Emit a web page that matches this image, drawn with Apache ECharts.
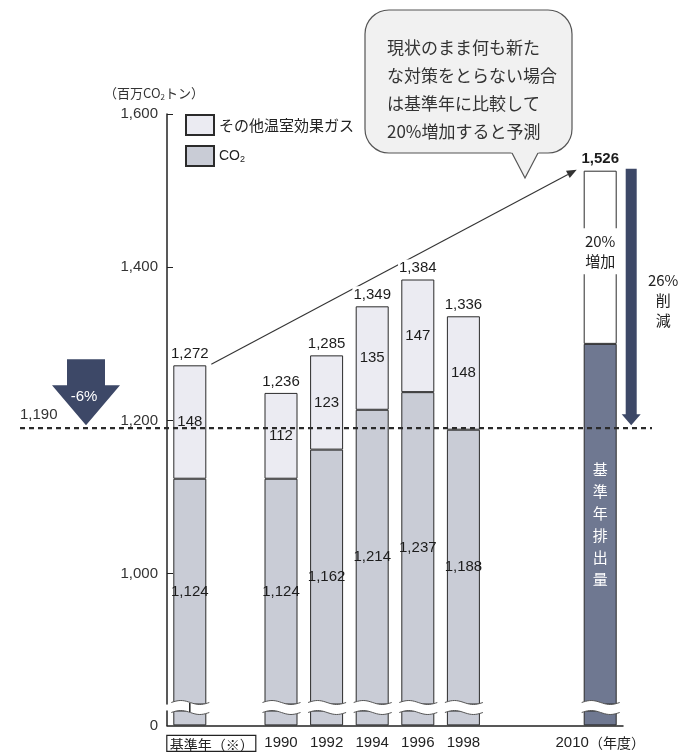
<!DOCTYPE html>
<html>
<head>
<meta charset="utf-8">
<script src="https://cdn.jsdelivr.net/npm/echarts@6/dist/echarts.min.js"></script>
<style>
  html, body { margin: 0; padding: 0; background: #fff; }
  #chart { width: 685px; height: 752px; }
</style>
</head>
<body>
<div id="chart"></div>
<script>
// Greenhouse gas emissions (million t-CO2), base year through 1998, plus the 2010 projection
const categories = ['基準年（※）', '', '1990', '1992', '1994', '1996', '1998', '', '', '2010'];
const co2 = [1124, null, 1124, 1162, 1214, 1237, 1188, null, null, null];
const otherGases = [148, null, 112, 123, 135, 147, 148, null, null, null];
const forecast2010 = 1526;      // projected total with no new measures
const baseLevel2010 = 1300;     // base-year emission band drawn inside the 2010 bar
const targetLevel = 1190;       // -6% target
const upperTicks = [1000, 1200, 1400, 1600];
const lowerTicks = [0];

// The value axis is split: an upper panel (830–1600) and a short stub (0–20) above the zero line
const UPPER_MIN = 830, UPPER_MAX = 1600, LOWER_MAX = 20;

const FONT = "'Liberation Sans', 'Noto Sans CJK JP', sans-serif";
const JP = "'Noto Sans CJK JP', sans-serif";
const fmt = v => Number(v).toLocaleString('en-US');
const IDX_2010 = categories.indexOf('2010');
const BAR_W = 33;
const DARK = '#6f7891';
const NAVY = '#3d4867';

const co2Data = co2.map((v, i) => i === IDX_2010
  ? { value: baseLevel2010,
      itemStyle: { color: DARK },
      label: { formatter: '基\n準\n年\n排\n出\n量', color: '#fff', fontFamily: JP,
               fontSize: 15, lineHeight: 22 } }
  : v);
const co2Stub = co2.map((v, i) => i === IDX_2010
  ? { value: baseLevel2010, itemStyle: { color: DARK } }
  : v);
const otherData = otherGases.map((v, i) => i === IDX_2010
  ? { value: forecast2010 - baseLevel2010,
      itemStyle: { color: '#ffffff' },
      label: { formatter: '20%\n増加', fontFamily: JP, fontSize: 15, lineHeight: 20,
               backgroundColor: '#fff', padding: [3, 4], offset: [0, -6] } }
  : v);
const totals = categories.map((c, i) => {
  if (i === IDX_2010) return { value: forecast2010, label: { fontWeight: 'bold' } };
  return co2[i] == null ? null : co2[i] + otherGases[i];
});
const barSlots = categories.map((c, i) => i).filter(i => totals[i] != null).map(i => [i]);

function wave(xl, w, y0, amp) {
  const pts = [];
  for (let k = 0; k <= 20; k++) {
    const t = k / 20;
    pts.push([xl + t * w, y0 - amp * Math.sin(Math.PI * 2 * t)]);
  }
  return pts;
}

// Wavy break marks across each bar where the axis is split
function renderBreak(params, api) {
  const i = api.value(0);
  const top = api.coord([i, UPPER_MIN]);
  const gap = 7;
  const xl = top[0] - BAR_W / 2 - 2;
  const w = BAR_W + 5;
  const upper = wave(xl, w, top[1] - 1.5, 2);
  const lower = wave(xl, w, top[1] + gap + 1.5, 2);
  return {
    type: 'group',
    children: [
      { type: 'polygon', shape: { points: upper.concat(lower.slice().reverse()) },
        style: { fill: '#fff' } },
      { type: 'polyline', shape: { points: upper }, style: { stroke: '#555', lineWidth: 1, fill: null } },
      { type: 'polyline', shape: { points: lower }, style: { stroke: '#555', lineWidth: 1, fill: null } }
    ]
  };
}

// Trend arrow from the base-year total to the 2010 projection (drawn beneath labels)
function renderTrend(params, api) {
  const p0 = api.coord([0, totals[0]]);
  const p1 = api.coord([IDX_2010, forecast2010]);
  const a = [p0[0] + BAR_W / 2 + 5, p0[1] - 1];
  const b = [p1[0] - BAR_W / 2 - 7, p1[1] - 1];
  const ang = Math.atan2(b[1] - a[1], b[0] - a[0]);
  const L = 10, W = 4;
  const back = [b[0] - L * Math.cos(ang), b[1] - L * Math.sin(ang)];
  const nx = -Math.sin(ang), ny = Math.cos(ang);
  return {
    type: 'group',
    children: [
      { type: 'line', shape: { x1: a[0], y1: a[1], x2: back[0], y2: back[1] },
        style: { stroke: '#333', lineWidth: 1.1 } },
      { type: 'polygon',
        shape: { points: [b, [back[0] + nx * W, back[1] + ny * W], [back[0] - nx * W, back[1] - ny * W]] },
        style: { fill: '#333' } }
    ]
  };
}

// Target line, -6% arrow and 26% reduction arrow (drawn above the bars)
function renderTarget(params, api) {
  const yT = api.coord([0, targetLevel])[1];
  const p1 = api.coord([IDX_2010, forecast2010]);
  const yBreak = api.coord([0, UPPER_MIN])[1];
  const axisX = api.coord([-0.5, UPPER_MIN])[0];
  const ax = p1[0] + 31;
  const cx = 86;
  return {
    type: 'group',
    children: [
      { type: 'line', shape: { x1: axisX, y1: yBreak - 1, x2: axisX, y2: yBreak + 8 },
        style: { stroke: '#222', lineWidth: 1.5 } },
      { type: 'line', shape: { x1: 20, y1: yT, x2: 652, y2: yT },
        style: { stroke: '#2a2a2a', lineWidth: 2.4, lineDash: [5, 4] } },
      { type: 'text', style: { text: fmt(targetLevel), x: 20, y: yT - 13, fill: '#333',
        font: '15px ' + FONT, verticalAlign: 'middle' } },
      { type: 'polygon',
        shape: { points: [[cx - 19, yT - 69], [cx + 19, yT - 69], [cx + 19, yT - 43], [cx + 34, yT - 43],
                          [cx, yT - 3], [cx - 34, yT - 43], [cx - 19, yT - 43]] },
        style: { fill: NAVY } },
      { type: 'text', style: { text: '-6%', x: cx - 2, y: yT - 31, fill: '#fff',
        font: '15px ' + FONT, align: 'center', verticalAlign: 'middle' } },
      { type: 'polygon',
        shape: { points: [[ax - 5.5, p1[1] - 2], [ax + 5.5, p1[1] - 2], [ax + 5.5, yT - 14], [ax + 9.5, yT - 14],
                          [ax, yT - 3], [ax - 9.5, yT - 14], [ax - 5.5, yT - 14]] },
        style: { fill: NAVY } },
      { type: 'text', style: { text: '26%\n削\n減', x: ax + 32, y: p1[1] + 100, fill: '#222',
        font: '15px ' + JP, lineHeight: 20, align: 'center' } }
    ]
  };
}

const chart = echarts.init(document.getElementById('chart'), null, { renderer: 'canvas' });
chart.setOption({
  animation: false,
  backgroundColor: '#fff',
  textStyle: { fontFamily: FONT },
  grid: [
    { left: 167, right: 62, top: 114, bottom: 48 },
    { left: 167, right: 62, top: 711, bottom: 25 }
  ],
  legend: {
    data: ['その他温室効果ガス', 'CO2'],
    orient: 'vertical', left: 185, top: 114, padding: 0,
    itemWidth: 28, itemHeight: 20, itemGap: 9, icon: 'rect',
    formatter: n => n === 'CO2' ? '{n|CO}{s|2}' : '{j|' + n + '}',
    textStyle: {
      color: '#222', fontSize: 15,
      rich: {
        j: { fontFamily: JP, fontSize: 15, color: '#222' },
        n: { fontFamily: FONT, fontSize: 14, lineHeight: 16, color: '#222' },
        s: { fontFamily: FONT, fontSize: 9, lineHeight: 16, verticalAlign: 'bottom', color: '#222' }
      }
    }
  },
  xAxis: [
    { gridIndex: 0, type: 'category', data: categories, show: false },
    {
      gridIndex: 1, type: 'category', data: categories,
      axisLine: { lineStyle: { color: '#222', width: 1.5 } },
      axisTick: { show: false },
      axisLabel: {
        interval: 0, margin: 10, color: '#222', fontSize: 15,
        formatter: (v, i) => {
          if (i === 0) return '{sp|}{box|' + v + '}';
          if (v === '2010') return v + '{u|（年度）}';
          return v;
        },
        rich: {
          sp: { width: 43 },
          box: { fontFamily: JP, fontSize: 14, color: '#222', borderColor: '#222', borderWidth: 1.2, padding: [2, 2, 0, 3] },
          u: { fontFamily: JP, fontSize: 14, color: '#222' }
        }
      }
    }
  ],
  yAxis: [
    {
      gridIndex: 0, type: 'value', min: UPPER_MIN, max: UPPER_MAX,
      name: '（百万CO{s|2}トン）',
      nameLocation: 'end', nameGap: 13,
      nameTextStyle: {
        fontFamily: JP, fontSize: 13, color: '#333', align: 'center', padding: [0, 26, 0, 0],
        rich: { s: { fontSize: 8, verticalAlign: 'bottom', lineHeight: 15, color: '#333' } }
      },
      axisLine: { show: true, lineStyle: { color: '#222', width: 1.5 } },
      axisTick: { show: true, inside: true, length: 6, customValues: upperTicks, lineStyle: { color: '#222' } },
      axisLabel: { customValues: upperTicks, fontSize: 15, color: '#333', margin: 9, formatter: v => fmt(v) },
      splitLine: { show: false }
    },
    {
      gridIndex: 1, type: 'value', min: 0, max: LOWER_MAX,
      axisLine: { show: true, lineStyle: { color: '#222', width: 1.5 } },
      axisTick: { show: false },
      axisLabel: { customValues: lowerTicks, fontSize: 15, color: '#333', margin: 9, formatter: v => fmt(v) },
      splitLine: { show: false }
    }
  ],
  series: [
    {
      name: 'CO2', type: 'bar', stack: 'emission', barWidth: BAR_W,
      itemStyle: { color: '#c9ccd6', borderColor: '#2b2b2b', borderWidth: 1 },
      label: { show: true, position: 'inside', fontSize: 15, color: '#1c1c1c',
               formatter: p => fmt(p.value) },
      data: co2Data
    },
    {
      name: 'その他温室効果ガス', type: 'bar', stack: 'emission', barWidth: BAR_W,
      itemStyle: { color: '#ebebf2', borderColor: '#2b2b2b', borderWidth: 1 },
      label: { show: true, position: 'inside', fontSize: 15, color: '#1c1c1c',
               formatter: p => fmt(p.value) },
      data: otherData
    },
    {
      name: 'total', type: 'bar', barWidth: BAR_W, barGap: '-100%', silent: true,
      itemStyle: { color: 'rgba(0,0,0,0)', borderWidth: 0 },
      label: { show: true, position: 'top', distance: 3, fontSize: 15, color: '#1c1c1c',
               backgroundColor: '#fff', padding: [1, 1],
               formatter: p => fmt(p.value) },
      data: totals
    },
    {
      name: 'CO2', type: 'bar', xAxisIndex: 1, yAxisIndex: 1, barWidth: BAR_W,
      itemStyle: { color: '#c9ccd6', borderColor: '#2b2b2b', borderWidth: 1 },
      label: { show: false },
      data: co2Stub
    },
    { type: 'custom', z: 3, silent: true, clip: false, renderItem: renderBreak, data: barSlots },
    { type: 'custom', z: 1, silent: true, clip: false, renderItem: renderTrend, data: [[0, UPPER_MIN]] },
    { type: 'custom', z: 5, silent: true, clip: false, renderItem: renderTarget, data: [[0, UPPER_MIN]] }
  ],
  graphic: [
    {
      type: 'rect', silent: true,
      shape: { x: 365, y: 10, width: 207, height: 143, r: 24 },
      style: { fill: '#f1f1f1', stroke: '#555', lineWidth: 1.2 }
    },
    {
      type: 'polygon', silent: true,
      shape: { points: [[511, 151.5], [539, 151.5], [525, 178]] },
      style: { fill: '#f1f1f1' }
    },
    {
      type: 'polyline', silent: true,
      shape: { points: [[512, 153], [525, 178], [538, 153]] },
      style: { stroke: '#555', lineWidth: 1.2, fill: null }
    },
    {
      type: 'text', silent: true, left: 387, top: 34,
      style: {
        text: '現状のまま何も新た\nな対策をとらない場合\nは基準年に比較して\n20%増加すると予測',
        font: '17px ' + JP, lineHeight: 28, fill: '#333'
      }
    }
  ]
});
</script>
</body>
</html>
